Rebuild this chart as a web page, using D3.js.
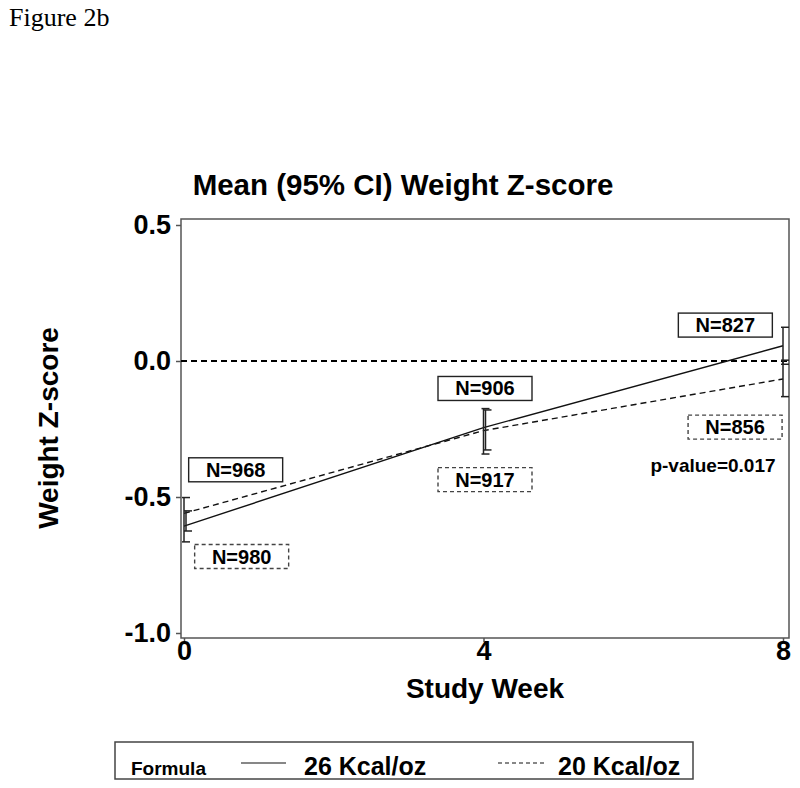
<!DOCTYPE html>
<html>
<head>
<meta charset="utf-8">
<script src="https://cdn.jsdelivr.net/npm/d3@7"></script>
<style>
  html, body { margin: 0; padding: 0; background: #fff; }
  svg { display: block; }
</style>
</head>
<body>
<div id="chart"></div>
<script>
// ---------------- data ----------------
const weeks = [0, 4, 8];
const seriesNames = ["26 Kcal/oz", "20 Kcal/oz"];
const meanSolid  = [-0.607, -0.245, 0.056];   // 26 Kcal/oz
const lowSolid   = [-0.625, -0.327, -0.012];
const highSolid  = [-0.551, -0.180, 0.124];
const meanDashed = [-0.560, -0.256, -0.066];  // 20 Kcal/oz
const lowDashed  = [-0.665, -0.342, -0.131];
const highDashed = [-0.502, -0.175, 0.003];
const nSolid  = [968, 906, 827];
const nDashed = [980, 917, 856];
const yTicks = [-1.0, -0.5, 0.0, 0.5];
const xTicks = [0, 4, 8];
const pValueText = "p-value=0.017";

// ---------------- layout ----------------
const W = 800, H = 788;
const svg = d3.select("#chart").append("svg").attr("width", W).attr("height", H)
  .style("font-family", "'Liberation Sans', Arial, sans-serif");

const x = d3.scaleLinear().domain([0, 8]).range([184, 783]);
const y = d3.scaleLinear().domain([-1.0, 0.5]).range([633, 225]);
const frame = {x0: 181, x1: 789, y0: 219, y1: 638};

// Figure caption
svg.append("text").attr("x", 9).attr("y", 26)
  .style("font-family", "'Liberation Serif', 'Times New Roman', serif")
  .style("font-size", "26px").text("Figure 2b");

// Title
svg.append("text").attr("x", 403).attr("y", 195).attr("text-anchor", "middle")
  .style("font-size", "29.5px").style("font-weight", "bold")
  .text("Mean (95% CI) Weight Z-score");

// Frame
svg.append("rect").attr("x", frame.x0).attr("y", frame.y0)
  .attr("width", frame.x1 - frame.x0).attr("height", frame.y1 - frame.y0)
  .attr("fill", "none").attr("stroke", "#555").attr("stroke-width", 1.5);

// Y axis
const fmtY = v => d3.format(".1f")(v).replace("\u2212", "-");
const yAxis = d3.axisLeft(y).tickValues(yTicks).tickSize(5).tickSizeOuter(0)
  .tickFormat(fmtY);
const gy = svg.append("g").attr("transform", `translate(${frame.x0},0)`).call(yAxis);
gy.select(".domain").remove();
gy.selectAll(".tick line").attr("stroke", "#555").attr("stroke-width", 1.5);
gy.selectAll(".tick text").attr("x", -10)
  .style("font-size", "27px").style("font-weight", "bold")
  .style("font-family", "'Liberation Sans', Arial, sans-serif").attr("fill", "#000");

// X axis
const xAxis = d3.axisBottom(x).tickValues(xTicks).tickSize(4).tickSizeOuter(0)
  .tickFormat(d3.format("d"));
const gx = svg.append("g").attr("transform", `translate(0,${frame.y1})`).call(xAxis);
gx.select(".domain").remove();
gx.selectAll(".tick line").attr("stroke", "#555").attr("stroke-width", 1.5);
gx.selectAll(".tick text").attr("y", 3)
  .style("font-size", "27px").style("font-weight", "bold")
  .style("font-family", "'Liberation Sans', Arial, sans-serif").attr("fill", "#000");

// Axis labels
svg.append("text").attr("x", 485).attr("y", 698).attr("text-anchor", "middle")
  .style("font-size", "28px").style("font-weight", "bold").text("Study Week");
svg.append("text").attr("transform", "translate(58,428) rotate(-90)")
  .attr("text-anchor", "middle")
  .style("font-size", "28px").style("font-weight", "bold").text("Weight Z-score");

// Zero reference line
svg.append("line").attr("x1", frame.x0).attr("x2", frame.x1)
  .attr("y1", y(0)).attr("y2", y(0))
  .attr("stroke", "#000").attr("stroke-width", 2).attr("stroke-dasharray", "6,4");

// Lines
const mkPts = (m) => weeks.map((w, i) => [w, m[i]]);
const line = d3.line().x(d => x(d[0])).y(d => y(d[1]));
svg.append("path").datum(mkPts(meanSolid)).attr("d", line)
  .attr("fill", "none").attr("stroke", "#111").attr("stroke-width", 1.4);
svg.append("path").datum(mkPts(meanDashed)).attr("d", line)
  .attr("fill", "none").attr("stroke", "#111").attr("stroke-width", 1.4)
  .attr("stroke-dasharray", "6,4");

// Error bars
function errBars(low, high, dx) {
  weeks.forEach((w, i) => {
    const bx = Math.min(x(w) + dx, frame.x1 - 6);
    const g = svg.append("g").attr("stroke", "#222").attr("stroke-width", 1.5);
    g.append("line").attr("x1", bx).attr("x2", bx).attr("y1", y(high[i])).attr("y2", y(low[i]));
    [high[i], low[i]].forEach(v => {
      g.append("line").attr("x1", bx - 2).attr("x2", bx + 6).attr("y1", y(v)).attr("y2", y(v));
    });
  });
}
errBars(lowDashed, highDashed, 0);
errBars(lowSolid, highSolid, 2);

// N label boxes (centers in data coords: week offset, value)
const nBoxSolidPos  = [[0.69, -0.40], [4.02, -0.101], [7.23, 0.132]];
const nBoxDashedPos = [[0.77, -0.719], [4.02, -0.436], [7.36, -0.243]];
function nBoxes(ns, pos, dashed) {
  ns.forEach((n, i) => {
    const cx = x(pos[i][0]), cy = y(pos[i][1]);
    const bw = 94, bh = 24;
    svg.append("rect").attr("x", cx - bw / 2).attr("y", cy - bh / 2)
      .attr("width", bw).attr("height", bh).attr("fill", "#fff")
      .attr("stroke", dashed ? "#444" : "#222").attr("stroke-width", 1.4)
      .attr("stroke-dasharray", dashed ? "4,3" : null);
    svg.append("text").attr("x", cx).attr("y", cy + 7).attr("text-anchor", "middle")
      .style("font-size", "20px").style("font-weight", "bold").text("N=" + n);
  });
}
nBoxes(nSolid, nBoxSolidPos, false);
nBoxes(nDashed, nBoxDashedPos, true);

// p-value
svg.append("text").attr("x", 713).attr("y", 472).attr("text-anchor", "middle")
  .style("font-size", "19px").style("font-weight", "bold").text(pValueText);

// Legend
const lg = svg.append("g");
lg.append("rect").attr("x", 115).attr("y", 742).attr("width", 578).attr("height", 37)
  .attr("fill", "none").attr("stroke", "#444").attr("stroke-width", 1.5);
lg.append("text").attr("x", 131).attr("y", 775)
  .style("font-size", "19px").style("font-weight", "bold").text("Formula");
lg.append("line").attr("x1", 241).attr("x2", 286).attr("y1", 763).attr("y2", 763)
  .attr("stroke", "#111").attr("stroke-width", 1.2);
lg.append("text").attr("x", 304).attr("y", 775)
  .style("font-size", "25px").style("font-weight", "bold").text(seriesNames[0]);
lg.append("line").attr("x1", 498).attr("x2", 544).attr("y1", 763).attr("y2", 763)
  .attr("stroke", "#111").attr("stroke-width", 1.2).attr("stroke-dasharray", "4,3");
lg.append("text").attr("x", 558).attr("y", 775)
  .style("font-size", "25px").style("font-weight", "bold").text(seriesNames[1]);
</script>
</body>
</html>
